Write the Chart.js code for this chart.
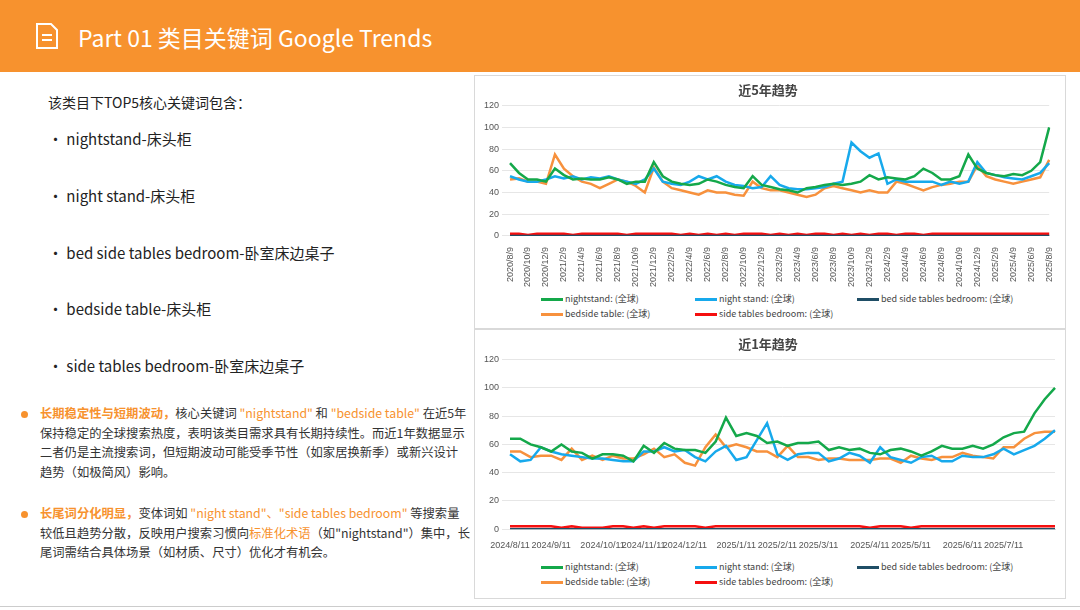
<!DOCTYPE html>
<html><head><meta charset="utf-8">
<script src="https://cdn.jsdelivr.net/npm/chart.js@4"></script>
<style>
body{margin:0;width:1080px;height:610px;background:#fff;font-family:"Noto Sans CJK SC","Noto Sans",sans-serif;position:relative;overflow:hidden;color:#222}
.hdr{position:absolute;left:0;top:0;width:1080px;height:72px;background:#F7922E}
.hdr .t{position:absolute;left:78px;top:20px;color:#fff;font-size:23px}
.hdr svg{position:absolute;left:34px;top:22px}
.intro{position:absolute;left:48px;top:92px;font-size:14px}
.kw{position:absolute;left:48px;font-size:15px}
.para{position:absolute;left:40px;width:430px;font-size:12.3px;line-height:19.5px;color:#333}
.para .dot{position:absolute;left:-19px;top:7px;width:7px;height:7px;border-radius:50%;background:#F7922E}
.o{color:#F7922E}.ob{color:#F7922E;font-weight:bold}
.box{position:absolute;left:474px;width:590px;border:1px solid #d9d9d9;background:#fff}
.cv{position:absolute;left:2px;width:586px}
.leg{position:absolute;left:0;width:590px;font-size:9px;color:#444}
.leg span{position:absolute;white-space:nowrap}
.leg i{display:inline-block;width:22px;height:3px;vertical-align:middle;margin-right:2px}
</style></head><body>
<div class="hdr">
<svg width="26" height="28" viewBox="0 0 26 28"><path d="M3 2h14l6 6v18H3z" fill="none" stroke="#fff" stroke-width="2"/><path d="M8 13h10M8 18h10" stroke="#fff" stroke-width="2"/></svg>
<div class="t">Part 01 类目关键词 Google Trends</div></div>
<div class="intro">该类目下TOP5核心关键词包含：</div>
<div class="kw" style="top:128px">• nightstand-床头柜</div>
<div class="kw" style="top:185px">• night stand-床头柜</div>
<div class="kw" style="top:242px">• bed side tables bedroom-卧室床边桌子</div>
<div class="kw" style="top:298px">• bedside table-床头柜</div>
<div class="kw" style="top:355px">• side tables bedroom-卧室床边桌子</div>
<div class="para" style="top:404px"><span class="dot"></span><span class="ob">长期稳定性与短期波动，</span>核心关键词 <span class="o">"nightstand"</span> 和 <span class="o">"bedside table"</span> 在近5年保持稳定的全球搜索热度，表明该类目需求具有长期持续性。而近1年数据显示二者仍是主流搜索词，但短期波动可能受季节性（如家居换新季）或新兴设计趋势（如极简风）影响。</div>
<div class="para" style="top:504px"><span class="dot"></span><span class="ob">长尾词分化明显，</span>变体词如 <span class="o">"night stand"、"side tables bedroom"</span> 等搜索量较低且趋势分散，反映用户搜索习惯向<span class="o">标准化术语</span>（如"nightstand"）集中，长尾词需结合具体场景（如材质、尺寸）优化才有机会。</div>
<div style="position:absolute;left:0;top:606px;width:1080px;height:1px;background:#ccc"></div>

<div class="box" style="top:75px;height:252px"><div class="cv" style="top:2px;height:212px"><canvas id="c5"></canvas></div><div class="leg" id="l5" style="top:216px"></div></div>
<div class="box" style="top:329px;height:268px"><div class="cv" style="top:2px;height:222px"><canvas id="c1"></canvas></div><div class="leg" id="l1" style="top:230px"></div></div>

<script>
const seriesNames = ["nightstand: (全球)", "night stand: (全球)", "bed side tables bedroom: (全球)", "bedside table: (全球)", "side tables bedroom: (全球)"];
const seriesColors = ["#14A84A", "#17A9EC", "#1F4E66", "#F7913D", "#F50F0F"];

// 近5年 (monthly estimates, 2020/8 .. 2025/8)
const months5 = [];
for (let y = 2020, m = 8; y < 2025 || m <= 8; m++) { if (m > 12) { m = 1; y++; } months5.push(y + "/" + m + "/9"); if (y === 2025 && m === 8) break; }
const green5 = [67,58,52,52,50,62,56,52,53,52,52,54,52,48,50,50,68,55,50,48,47,48,52,50,47,45,44,55,47,45,43,42,40,44,45,47,48,47,48,50,56,52,54,53,52,55,62,58,52,52,55,75,62,58,56,55,57,56,60,68,100];
const blue5  = [55,52,50,50,52,55,53,55,52,54,53,55,52,50,48,52,62,50,48,47,50,55,52,55,50,47,46,44,45,55,47,44,43,43,44,45,48,50,86,78,72,76,48,52,50,50,50,50,47,50,48,50,68,58,56,54,53,52,55,58,67];
const dark5  = months5.map(() => 0);
const orange5= [52,53,50,50,48,75,62,55,50,48,44,48,52,50,46,40,63,50,44,42,40,38,42,40,40,38,37,50,44,42,42,40,38,36,38,44,46,44,42,40,42,40,40,50,48,45,42,45,47,48,50,50,65,55,52,50,48,50,52,54,70];
const red5   = [2,2,1,2,2,2,2,1,2,2,2,2,2,1,2,2,2,2,2,1,2,1,2,1,2,1,2,2,2,1,2,1,2,1,2,2,1,2,1,2,1,2,2,1,2,2,1,2,2,2,2,2,2,2,2,2,2,2,2,2,2];

// 近1年 (weekly estimates)
const tickLabels1 = ["2024/8/11","2024/9/11","2024/10/11","2024/11/11","2024/12/11","2025/1/11","2025/2/11","2025/3/11","2025/4/11","2025/5/11","2025/6/11","2025/7/11"];
const tickIdx1 = [0,4,9,13,17,22,26,30,35,39,44,48];
const green1 = [64,64,60,58,55,60,55,54,50,53,53,52,48,59,54,61,57,56,56,54,62,79,66,68,66,61,62,59,61,61,62,56,58,56,57,54,53,56,57,55,52,55,59,57,57,59,57,60,65,68,69,82,92,100];
const blue1  = [53,48,49,58,55,53,52,51,50,50,49,48,48,55,55,58,55,56,51,48,55,59,49,51,63,75,53,49,53,54,54,48,50,54,52,47,58,51,49,47,51,52,48,48,52,51,51,53,57,53,56,59,64,70];
const dark1  = green1.map(() => 0);
const orange1= [55,55,51,52,52,49,57,49,52,49,52,50,50,53,57,51,53,47,45,58,67,58,60,58,55,55,51,59,51,51,49,50,50,49,49,49,50,50,47,52,50,49,51,51,54,52,51,50,58,58,64,68,69,69];
const red1   = [2,2,2,2,2,1,2,1,1,1,2,2,1,2,1,2,2,2,2,1,2,2,2,2,2,2,2,2,2,2,2,2,2,2,2,1,2,2,2,1,2,2,2,2,2,2,2,2,2,2,2,2,2,2];
const labels1 = green1.map((_, i) => { const k = tickIdx1.indexOf(i); return k >= 0 ? tickLabels1[k] : ""; });

function makeChart(id, labels, data, title, xOpts) {
  new Chart(document.getElementById(id), {
    type: "line",
    data: { labels, datasets: data.map((d, i) => ({
      label: seriesNames[i], data: d, borderColor: seriesColors[i], backgroundColor: seriesColors[i],
      borderWidth: 2.5, pointRadius: 0, tension: 0 })) },
    options: {
      responsive: true, maintainAspectRatio: false, animation: false,
      layout: { padding: { left: 4, right: 8 } },
      plugins: { legend: { display: false }, tooltip: { enabled: false },
        title: { display: true, text: title, color: "#444", font: { size: 13, family: "Noto Sans CJK SC" }, padding: { top: 4, bottom: 8 } } },
      scales: {
        x: Object.assign({ grid: { display: false }, border: { color: "#d9d9d9" } }, xOpts),
        y: { min: 0, max: 120, ticks: { stepSize: 20, color: "#555", font: { size: 9 } }, grid: { color: "#e6e6e6" }, border: { display: false } },
      },
    },
  });
}

makeChart("c5", months5, [green5, blue5, dark5, orange5, red5], "近5年趋势",
  { ticks: { color: "#555", font: { size: 9 }, maxRotation: 90, minRotation: 90, autoSkip: false,
    callback: (v, i) => i % 2 === 0 ? months5[i].replace(/\/\d+$/, "/9") : "" } });
makeChart("c1", labels1, [green1, blue1, dark1, orange1, red1], "近1年趋势",
  { ticks: { color: "#555", font: { size: 9 }, maxRotation: 0, autoSkip: false, callback: (v, i) => labels1[i] } });

function legend(id, top2) {
  const pos = [[66, 0], [220, 0], [382, 0], [66, top2], [220, top2]];
  document.getElementById(id).innerHTML = seriesNames.map((n, i) =>
    `<span style="left:${pos[i][0]}px;top:${pos[i][1]}px"><i style="background:${seriesColors[i]}"></i>${n}</span>`).join("");
}
legend("l5", 15); legend("l1", 15);
</script>
</body></html>
